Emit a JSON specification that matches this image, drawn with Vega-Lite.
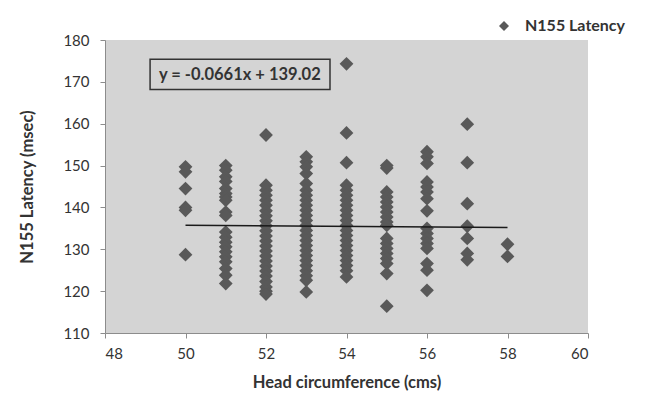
{
  "$schema": "https://vega.github.io/schema/vega-lite/v6.json",
  "width": 483,
  "height": 293,
  "autosize": {"type": "none"},
  "padding": {"left": 105, "top": 40, "right": 63, "bottom": 65},
  "background": "white",
  "config": {
    "font": "Lato",
    "view": {"fill": "#d4d4d4", "stroke": null},
    "axis": {
      "grid": false,
      "domainColor": "#8c8c8c",
      "tickColor": "#8c8c8c",
      "tickSize": 5,
      "labelColor": "#333333",
      "labelFontSize": 15,
      "labelFont": "Lato",
      "titleFont": "Lato",
      "titleFontSize": 16.5,
      "titleFontWeight": "bold",
      "titleColor": "#333333"
    },
    "legend": {
      "orient": "none",
      "legendX": 391,
      "legendY": -22,
      "title": null,
      "labelFont": "Lato",
      "labelFontSize": 16,
      "labelFontWeight": "bold",
      "labelColor": "#333333",
      "labelOffset": 13,
      "symbolType": "diamond",
      "symbolSize": 100
    }
  },
  "layer": [
    {
      "data": {"values": [
        {"hc":50,"lat":149.7},{"hc":50,"lat":148.5},{"hc":50,"lat":144.5},{"hc":50,"lat":140},{"hc":50,"lat":139.3},{"hc":50,"lat":128.7},
        {"hc":51,"lat":150},{"hc":51,"lat":148.9},{"hc":51,"lat":147.3},{"hc":51,"lat":146.2},{"hc":51,"lat":144.5},{"hc":51,"lat":143.3},{"hc":51,"lat":142.5},{"hc":51,"lat":141.7},{"hc":51,"lat":138.9},{"hc":51,"lat":138.1},{"hc":51,"lat":134.1},{"hc":51,"lat":132.9},{"hc":51,"lat":131.7},{"hc":51,"lat":130.6},{"hc":51,"lat":129.4},{"hc":51,"lat":128.2},{"hc":51,"lat":127},{"hc":51,"lat":125.4},{"hc":51,"lat":123.8},{"hc":51,"lat":121.8},
        {"hc":52,"lat":157.3},{"hc":52,"lat":145.3},{"hc":52,"lat":144.1},{"hc":52,"lat":142.9},{"hc":52,"lat":141.7},{"hc":52,"lat":140.5},{"hc":52,"lat":139.2},{"hc":52,"lat":138},{"hc":52,"lat":136.8},{"hc":52,"lat":135.6},{"hc":52,"lat":134.4},{"hc":52,"lat":133.2},{"hc":52,"lat":132},{"hc":52,"lat":130.8},{"hc":52,"lat":129.6},{"hc":52,"lat":128.4},{"hc":52,"lat":127.2},{"hc":52,"lat":126},{"hc":52,"lat":124.8},{"hc":52,"lat":123.6},{"hc":52,"lat":122.3},{"hc":52,"lat":121},{"hc":52,"lat":120},{"hc":52,"lat":119.3},
        {"hc":53,"lat":152.1},{"hc":53,"lat":150.9},{"hc":53,"lat":149.7},{"hc":53,"lat":148.1},{"hc":53,"lat":145.7},{"hc":53,"lat":144.1},{"hc":53,"lat":142.9},{"hc":53,"lat":141.7},{"hc":53,"lat":140.5},{"hc":53,"lat":139.3},{"hc":53,"lat":138.1},{"hc":53,"lat":136.9},{"hc":53,"lat":135.7},{"hc":53,"lat":134.5},{"hc":53,"lat":133.3},{"hc":53,"lat":132.1},{"hc":53,"lat":130.9},{"hc":53,"lat":129.7},{"hc":53,"lat":128.5},{"hc":53,"lat":127.3},{"hc":53,"lat":126.1},{"hc":53,"lat":124.9},{"hc":53,"lat":123.7},{"hc":53,"lat":122.6},{"hc":53,"lat":119.8},
        {"hc":54,"lat":174.3},{"hc":54,"lat":157.8},{"hc":54,"lat":150.7},{"hc":54,"lat":145.3},{"hc":54,"lat":144.1},{"hc":54,"lat":142.9},{"hc":54,"lat":141.7},{"hc":54,"lat":140.5},{"hc":54,"lat":139.3},{"hc":54,"lat":138.1},{"hc":54,"lat":136.9},{"hc":54,"lat":135.7},{"hc":54,"lat":134.5},{"hc":54,"lat":133.3},{"hc":54,"lat":132.1},{"hc":54,"lat":130.9},{"hc":54,"lat":129.7},{"hc":54,"lat":128.5},{"hc":54,"lat":127.3},{"hc":54,"lat":126.1},{"hc":54,"lat":124.9},{"hc":54,"lat":123.4},
        {"hc":55,"lat":150},{"hc":55,"lat":149.4},{"hc":55,"lat":143.7},{"hc":55,"lat":142.5},{"hc":55,"lat":141.3},{"hc":55,"lat":140.1},{"hc":55,"lat":138.9},{"hc":55,"lat":137.7},{"hc":55,"lat":136.5},{"hc":55,"lat":135.7},{"hc":55,"lat":132.6},{"hc":55,"lat":131.4},{"hc":55,"lat":130.2},{"hc":55,"lat":129},{"hc":55,"lat":127.8},{"hc":55,"lat":126.6},{"hc":55,"lat":124.2},{"hc":55,"lat":116.4},
        {"hc":56,"lat":153.3},{"hc":56,"lat":152.1},{"hc":56,"lat":150.5},{"hc":56,"lat":146.1},{"hc":56,"lat":144.9},{"hc":56,"lat":143.7},{"hc":56,"lat":142.1},{"hc":56,"lat":139.2},{"hc":56,"lat":135},{"hc":56,"lat":133.8},{"hc":56,"lat":132.6},{"hc":56,"lat":131.4},{"hc":56,"lat":130.2},{"hc":56,"lat":126.6},{"hc":56,"lat":125},{"hc":56,"lat":120.2},
        {"hc":57,"lat":159.9},{"hc":57,"lat":150.7},{"hc":57,"lat":140.9},{"hc":57,"lat":135.5},{"hc":57,"lat":132.6},{"hc":57,"lat":129},{"hc":57,"lat":127.5},
        {"hc":58,"lat":131.2},{"hc":58,"lat":128.3}
      ]},
      "mark": {"type": "point", "shape": "diamond", "filled": true, "opacity": 1, "size": 190},
      "encoding": {
        "x": {
          "field": "hc", "type": "quantitative",
          "scale": {"domain": [48, 60], "nice": false, "zero": false},
          "axis": {"values": [48,50,52,54,56,58,60], "title": "Head circumference (cms)", "labelPadding": 8, "titlePadding": 13}
        },
        "y": {
          "field": "lat", "type": "quantitative",
          "scale": {"domain": [110, 180], "nice": false, "zero": false},
          "axis": {"values": [110,120,130,140,150,160,170,180], "title": "N155 Latency (msec)", "labelPadding": 11, "titlePadding": 27}
        },
        "color": {"datum": "N155 Latency", "type": "nominal", "scale": {"range": ["#595959"]}}
      }
    },
    {
      "data": {"values": [{"hc": 50, "lat": 135.715}, {"hc": 58, "lat": 135.186}]},
      "mark": {"type": "line", "color": "#1a1a1a", "strokeWidth": 1.5},
      "encoding": {
        "x": {"field": "hc", "type": "quantitative"},
        "y": {"field": "lat", "type": "quantitative"}
      }
    },
    {
      "data": {"values": [{}]},
      "mark": {"type": "rect", "fill": "#d4d4d4", "stroke": "#333333", "strokeWidth": 1.5},
      "encoding": {
        "x": {"datum": 49.12, "type": "quantitative"},
        "x2": {"datum": 53.59},
        "y": {"datum": 175.4, "type": "quantitative"},
        "y2": {"datum": 168.2}
      }
    },
    {
      "data": {"values": [{}]},
      "mark": {"type": "text", "text": "y = -0.0661x + 139.02", "font": "Lato", "fontSize": 16.5, "fontWeight": "bold", "color": "#333333", "align": "center", "baseline": "middle"},
      "encoding": {
        "x": {"datum": 51.35, "type": "quantitative"},
        "y": {"datum": 171.7, "type": "quantitative"}
      }
    }
  ]
}
